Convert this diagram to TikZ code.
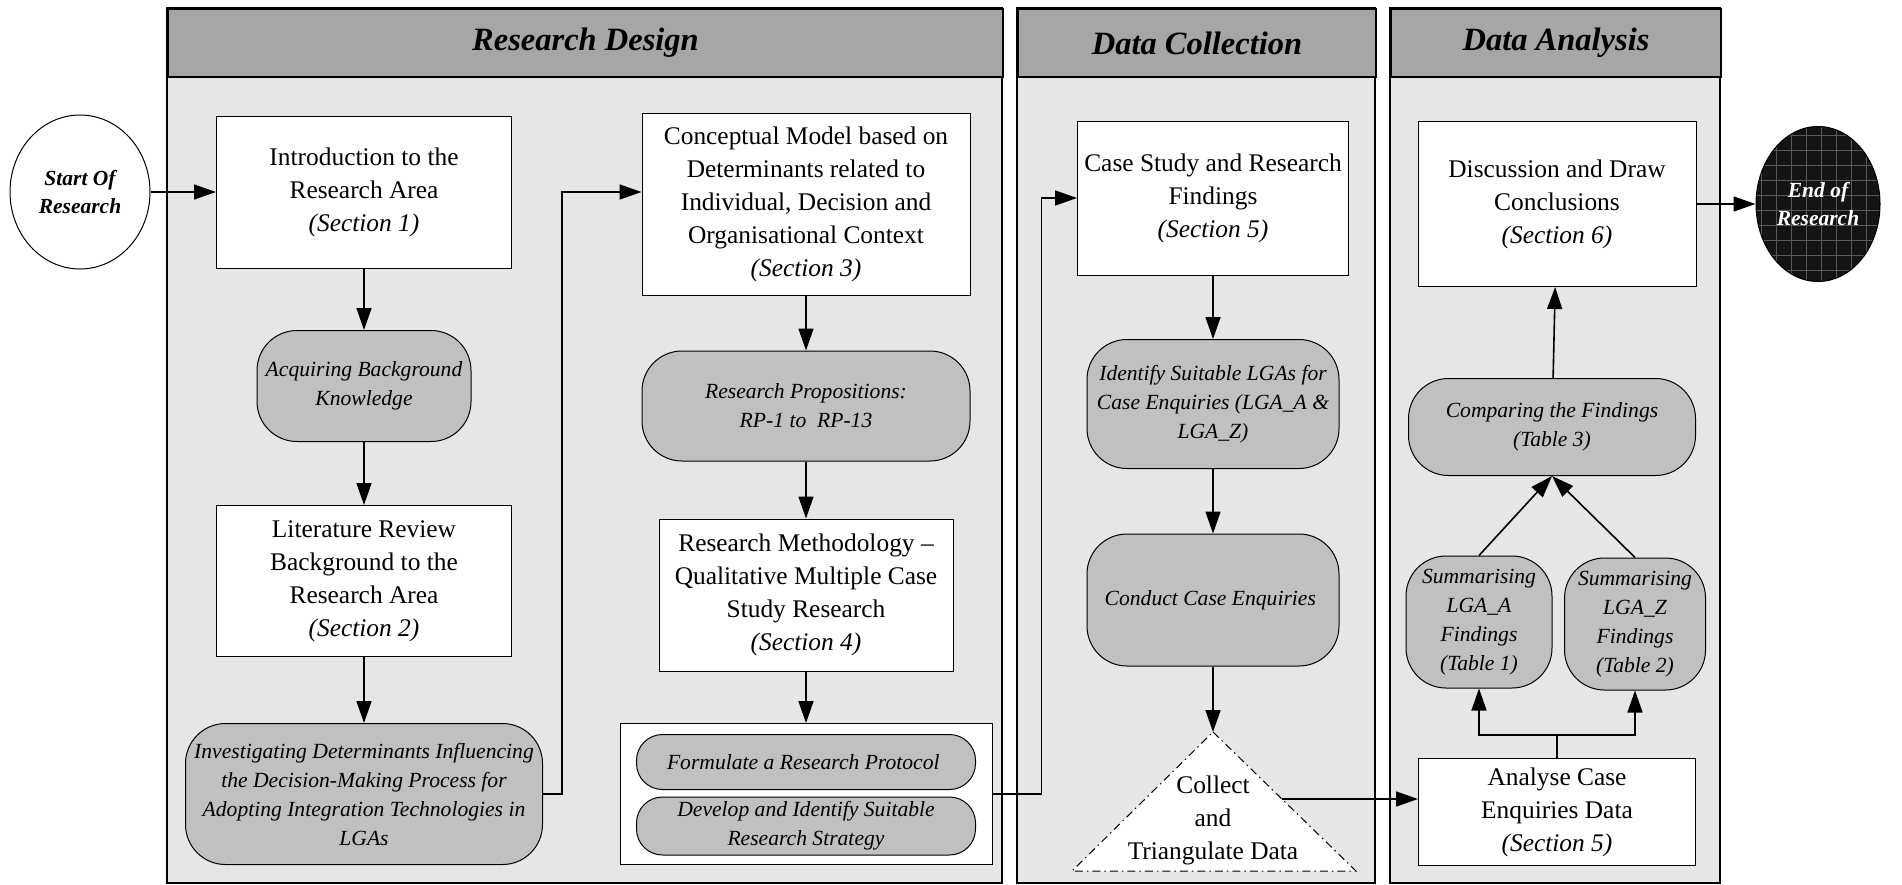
\documentclass[tikz,border=0pt]{standalone}
\usepackage{fontspec}
\setmainfont{Liberation Serif}
\usetikzlibrary{arrows.meta,positioning,shapes.geometric}
\definecolor{headgrey}{HTML}{A6A6A6}
\definecolor{boxgrey}{HTML}{C0C0C0}
\definecolor{lanegrey}{HTML}{E6E6E6}

\begin{document}
\begin{tikzpicture}
  [
    x                  = 1pt,
    y                  = -1pt,
    lane/.style        = {draw, line width=2pt, fill=lanegrey},
    lanehead/.style    = {draw, line width=2pt, fill=headgrey, anchor=north west,
                          minimum height=68pt, inner sep=0pt,
                          font=\fontsize{32.5}{36}\selectfont\bfseries\itshape},
    plainbox/.style    = {draw, line width=1pt, fill=white, align=center, inner sep=0pt,
                          font=\fontsize{25.4}{33}\selectfont},
    greybox/.style     = {draw, line width=1pt, fill=boxgrey, rounded corners=40pt,
                          align=center, inner sep=0pt,
                          font=\fontsize{21.6}{29}\selectfont\itshape},
    pill/.style        = {greybox, rounded corners=26pt},
    terminal/.style    = {ellipse, draw, line width=1pt, align=center, inner sep=0pt,
                          font=\fontsize{21.5}{28}\selectfont\bfseries\itshape},
    flow/.style        = {draw, line width=1.6pt, -{Triangle[length=22pt,width=15pt]}}
  ]
  \useasboundingbox (0,0) rectangle (1902,884);

  \draw[lane] (167,8) rectangle (1002,883);
  \draw[lane] (1017,8) rectangle (1375,883);
  \draw[lane] (1390,8) rectangle (1720,883);
  \node[lanehead, minimum width=835pt] (designhead)  at (167,8)  {Research Design};
  \node[lanehead, minimum width=358pt] (collecthead) at (1017,8) {Data Collection};
  \node[lanehead, minimum width=330pt] (analysehead) at (1390,8) {Data Analysis};

  \node[terminal, fill=white, minimum width=140pt, minimum height=154pt] (start) at (80,192)
    { Start Of\\Research };
  \node[terminal, fill=black!92, text=white, minimum width=124pt, minimum height=155pt,
        path picture={\draw[black!65, line width=0.8pt, step=15pt]
          (path picture bounding box.south west) grid (path picture bounding box.north east);}]
    (finish) at (1818,204) { End of\\Research };

  \node[plainbox, minimum width=295pt, minimum height=152pt] (intro) at (364,192)
    { Introduction to the\\Research Area\\\textit{(Section 1)} };
  \node[greybox, minimum width=214pt, minimum height=111pt] (acquire) at (364,386)
    { Acquiring Background\\Knowledge };
  \node[plainbox, minimum width=295pt, minimum height=151pt] (litreview) at (364,581)
    { Literature Review\\Background to the\\Research Area\\\textit{(Section 2)} };
  \node[greybox, minimum width=357pt, minimum height=141pt] (investigate) at (364,794)
    { Investigating Determinants Influencing\\the Decision-Making Process for\\
      Adopting Integration Technologies in\\LGAs };

  \node[plainbox, minimum width=328pt, minimum height=182pt] (concept) at (806,204)
    { Conceptual Model based on\\Determinants related to\\Individual, Decision and\\
      Organisational Context\\\textit{(Section 3)} };
  \node[greybox, minimum width=328pt, minimum height=110pt] (propositions) at (806,406)
    { Research Propositions:\\RP-1 to~ RP-13 };
  \node[plainbox, minimum width=294pt, minimum height=152pt] (method) at (806,595)
    { Research Methodology --\\Qualitative Multiple Case\\Study Research\\\textit{(Section 4)} };
  \node[plainbox, minimum width=372pt, minimum height=141pt] (protocol) at (806,794) {};
  \node[pill, minimum width=339pt, minimum height=55pt] (formulate) at (806,762)
    { Formulate a Research Protocol };
  \node[pill, minimum width=339pt, minimum height=58pt] (strategy) at (806,826)
    { Develop and Identify Suitable\\Research Strategy };

  \node[plainbox, minimum width=271pt, minimum height=154pt] (casestudy) at (1213,198)
    { Case Study and Research\\Findings\\\textit{(Section 5)} };
  \node[greybox, minimum width=252pt, minimum height=129pt] (identify) at (1213,404)
    { Identify Suitable LGAs for\\Case Enquiries (LGA\_A \&\\LGA\_Z) };
  \node[greybox, minimum width=252pt, minimum height=132pt] (conduct) at (1213,600)
    { Conduct Case Enquiries };
  \draw[dash pattern=on 8pt off 4pt on 1.5pt off 4pt, line width=1pt, fill=white]
    (1213,732) -- (1356,871) -- (1072,871) -- cycle;
  \coordinate (tritop)   at (1213,732);
  \coordinate (triright) at (1282,799);
  \node[align=center, inner sep=0pt, font=\fontsize{25.4}{33}\selectfont] (triangulate) at (1213,820)
    { Collect\\and\\Triangulate Data };

  \node[plainbox, minimum width=278pt, minimum height=165pt] (discuss) at (1557,204)
    { Discussion and Draw\\Conclusions\\\textit{(Section 6)} };
  \node[greybox, minimum width=287pt, minimum height=97pt] (compare) at (1552,427)
    { Comparing the Findings\\(Table 3) };
  \node[greybox, minimum width=146pt, minimum height=132pt] (summaryA) at (1479,622)
    { Summarising\\LGA\_A\\Findings\\(Table 1) };
  \node[greybox, minimum width=141pt, minimum height=132pt] (summaryZ) at (1635,624)
    { Summarising\\LGA\_Z\\Findings\\(Table 2) };
  \node[plainbox, minimum width=277pt, minimum height=107pt] (analyse) at (1557,812)
    { Analyse Case\\Enquiries Data\\\textit{(Section 5)} };

  \draw[flow] (start) -- (intro);
  \draw[flow] (intro) -- (acquire);
  \draw[flow] (acquire) -- (litreview);
  \draw[flow] (litreview) -- (investigate);
  \draw[flow] (investigate.east) -- ++(19,0) |- (concept.west |- intro.east);
  \draw[flow] (concept) -- (propositions);
  \draw[flow] (propositions) -- (method);
  \draw[flow] (method) -- (protocol);
  \draw[flow] (protocol.east) -- ++(49,0) |- (casestudy.west);
  \draw[flow] (casestudy) -- (identify);
  \draw[flow] (identify) -- (conduct);
  \draw[flow] (conduct) -- (tritop);
  \draw[flow] (triright) -- (triright -| analyse.west);
  \draw[line width=1.6pt] (analyse.north) -- ++(0,-23) coordinate (fork);
  \draw[flow] (fork) -| (summaryA.south);
  \draw[flow] (fork) -| (summaryZ.south);
  \draw[flow] (summaryA.north) -- (compare.south);
  \draw[flow] (summaryZ.north) -- (compare.south);
  \draw[flow] (compare) -- (discuss);
  \draw[flow] (discuss) -- (finish);
\end{tikzpicture}
\end{document}
